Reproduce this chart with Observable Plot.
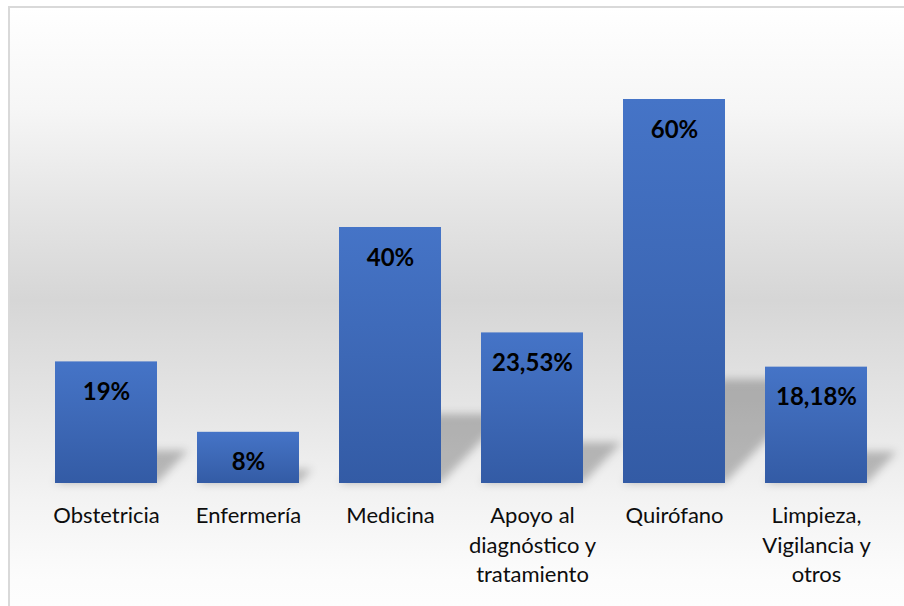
<!DOCTYPE html>
<html>
<head>
<meta charset="utf-8">
<script src="https://cdn.jsdelivr.net/npm/d3@7"></script>
<script src="https://cdn.jsdelivr.net/npm/@observablehq/plot@0.6"></script>
<style>
  html, body { margin: 0; padding: 0; width: 904px; height: 606px; overflow: hidden; background: #ffffff; }
  #stage { position: relative; width: 904px; height: 606px; overflow: hidden; }
  #panel {
    position: absolute; left: 8px; top: 6px; width: 1000px; height: 700px;
    border-left: 2px solid #d9d9d9; border-top: 2px solid #d9d9d9;
    background: linear-gradient(to bottom,
      #ffffff 0px, #f6f6f6 100px, #e6e6e6 192px, #d6d6d6 292px,
      #e4e4e4 392px, #f3f3f3 492px, #fcfcfc 572px, #ffffff 640px);
  }
  #chart { position: absolute; left: 0; top: 0; }
</style>
</head>
<body>
<div id="stage">
  <div id="panel"></div>
  <div id="chart"></div>
</div>
<script>
// Share of staff per hospital service
const categories = ["Obstetricia", "Enfermería", "Medicina", "Apoyo al diagnóstico y tratamiento", "Quirófano", "Limpieza, Vigilancia y otros"];
const values = [19, 8, 40, 23.53, 60, 18.18];
const valueLabels = ["19%", "8%", "40%", "23,53%", "60%", "18,18%"];
const tickLabels = ["Obstetricia", "Enfermería", "Medicina", "Apoyo al\ndiagnóstico y\ntratamiento", "Quirófano", "Limpieza,\nVigilancia y\notros"];

const rows = categories.map((c, i) => ({category: c, value: values[i], label: valueLabels[i]}));

// Gradient fill for bars plus a blurred perspective shadow cast up and to the right
function shadows(index, scales) {
  const g = d3.create("svg:g");
  const defs = g.append("defs");
  const grad = defs.append("linearGradient")
    .attr("id", "barFill").attr("x1", 0).attr("y1", 0).attr("x2", 0).attr("y2", 1);
  grad.append("stop").attr("offset", "0%").attr("stop-color", "#4574c7");
  grad.append("stop").attr("offset", "50%").attr("stop-color", "#3d68b6");
  grad.append("stop").attr("offset", "100%").attr("stop-color", "#335ba5");
  const f = defs.append("filter").attr("id", "shadowBlur")
    .attr("x", "-50%").attr("y", "-50%").attr("width", "200%").attr("height", "200%");
  f.append("feGaussianBlur").attr("stdDeviation", 4);

  const x = scales.x, y = scales.y;
  const bw = x.bandwidth();
  const base = y(0);
  g.append("g").attr("filter", "url(#shadowBlur)")
    .selectAll("path").data(rows).join("path")
    .attr("fill", "#000").attr("fill-opacity", 0.24)
    .attr("d", d => {
      const x0 = x(d.category), x1 = x0 + bw;
      const h = base - y(d.value);
      const sh = 0.27 * h, dx = 0.95 * sh;
      return `M${x0},${base}L${x1},${base}L${x1 + dx},${base - sh}L${x0 + dx},${base - sh}Z`;
    });
  return g.node();
}

const chart = Plot.plot({
  width: 904,
  height: 606,
  marginLeft: 55,
  marginRight: 37,
  marginTop: 99,
  marginBottom: 123,
  style: {background: "transparent", fontFamily: "Lato, 'Open Sans', sans-serif", overflow: "visible"},
  x: {type: "band", domain: categories, paddingInner: 0.282, paddingOuter: 0, axis: null},
  y: {domain: [0, 60], axis: null},
  marks: [
    shadows,
    Plot.barY(rows, {x: "category", y: "value", fill: "url(#barFill)"}),
    Plot.text(rows, {
      x: "category", y: "value", text: "label",
      dy: 38, lineAnchor: "bottom",
      fontSize: 24, fontWeight: "bold", fill: "#000"
    }),
    Plot.axisX({
      domain: categories,
      label: null,
      tickSize: 0, tickPadding: 19,
      fontSize: 22, lineHeight: 29.5 / 22,
      color: "#0d0d0d",
      tickFormat: d => tickLabels[categories.indexOf(d)]
    })
  ]
});

document.getElementById("chart").appendChild(chart);
</script>
</body>
</html>
